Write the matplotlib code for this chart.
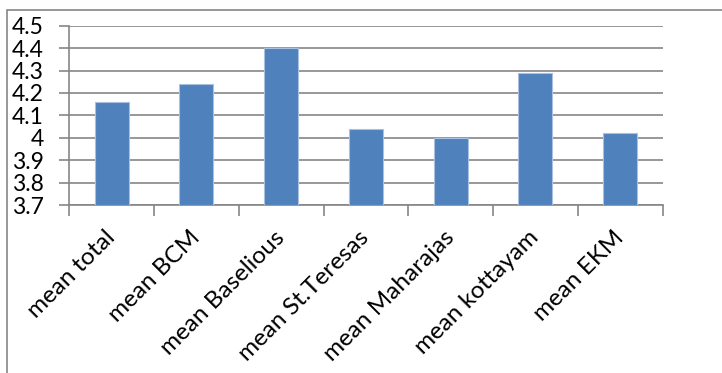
import matplotlib
matplotlib.use('Agg')
import matplotlib.pyplot as plt
from matplotlib.patches import Rectangle

# category names and mean scores
categories = ['mean total', 'mean BCM', 'mean Baselious', 'mean St.Teresas',
              'mean Maharajas', 'mean kottayam', 'mean EKM']
means = [4.16, 4.24, 4.40, 4.04, 4.00, 4.29, 4.02]
y_ticks = [3.7, 3.8, 3.9, 4.0, 4.1, 4.2, 4.3, 4.4, 4.5]
y_labels = ['3.7', '3.8', '3.9', '4', '4.1', '4.2', '4.3', '4.4', '4.5']

grid_gray = '#868686'
plt.rcParams['font.family'] = ['Lato', 'DejaVu Sans']

fig = plt.figure(figsize=(7.22, 3.73), dpi=100)
ax = fig.add_axes([0.096, 0.4504, 0.8216, 0.4807])

# outer chart border, cut off at right and bottom like the screenshot
fig.patches.append(Rectangle((7 / 722, -0.1), 1.2, 1 - 10 / 373 + 0.1,
                             transform=fig.transFigure, fill=False,
                             edgecolor=grid_gray, linewidth=1.2))

x = range(len(categories))
ax.bar(x, [m - 3.7 for m in means], bottom=3.7, width=0.4,
       color='#4F81BD', edgecolor='#a9c1df', linewidth=0.8, zorder=3)

ax.set_xlim(-0.5, len(categories) - 0.5)
ax.set_ylim(3.7, 4.5)
ax.set_yticks(y_ticks)
ax.set_yticklabels(y_labels, fontsize=16.5)
ax.yaxis.grid(True, color=grid_gray, linewidth=1.2, zorder=0)
ax.set_axisbelow(True)

# x ticks on the category boundaries, labels centred under bars
ax.set_xticks([i - 0.5 for i in range(len(categories) + 1)])
ax.set_xticklabels([])
ax.set_xticks(list(x), minor=True)
ax.set_xticklabels(categories, minor=True, rotation=45, ha='right',
                   va='center', rotation_mode='anchor', fontsize=17.5)
ax.tick_params(axis='x', which='minor', length=0, pad=21)
ax.tick_params(axis='x', which='major', length=8, color=grid_gray, width=1.2)
ax.tick_params(axis='y', length=7, color=grid_gray, width=1.2, pad=11.5)

for side in ['top', 'right']:
    ax.spines[side].set_visible(False)
for side in ['left', 'bottom']:
    ax.spines[side].set_color(grid_gray)
    ax.spines[side].set_linewidth(1.2)

fig.savefig('out.png', dpi=100)
